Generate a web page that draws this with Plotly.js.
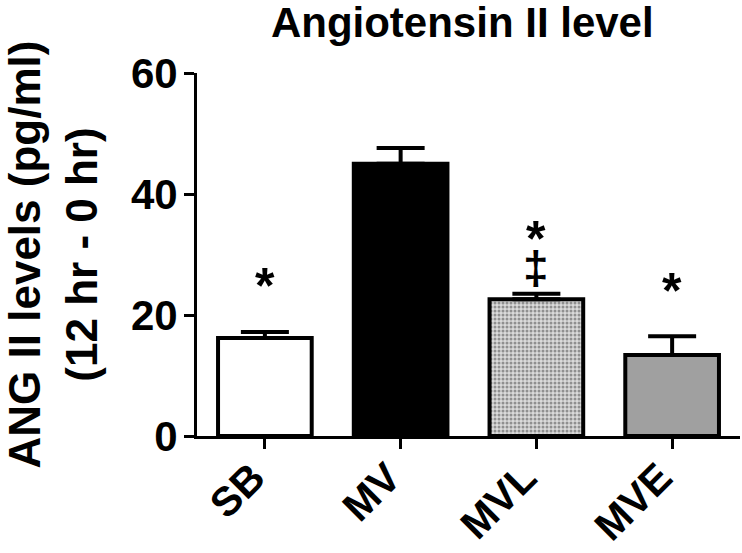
<!DOCTYPE html>
<html>
<head>
<meta charset="utf-8">
<script src="https://cdn.plot.ly/plotly-3.0.1.min.js"></script>
<style>html,body{margin:0;padding:0;background:#fff;}#chart{width:742px;height:553px;}</style>
</head>
<body>
<div id="chart"></div>
<script>
// ---- data ----
const categories = ['SB', 'MV', 'MVL', 'MVE'];
const meanValues = [16.2, 45.0, 22.6, 13.4];
const semValues = [1.0, 2.6, 0.9, 3.1];
const barFills = ['#ffffff', '#000000', '#dadada', '#a0a0a0'];
const barPatterns = ['', '', '.', ''];
const sigText = ['*', '*', '‡', '*'];
const sigCategory = ['SB', 'MVL', 'MVL', 'MVE'];
const sigY = [24.8, 32.6, 27.7, 24.0];
const yTicks = [0, 20, 40, 60];

const FONT = 'Liberation Sans, Arial, Helvetica, sans-serif';

const trace = {
  type: 'bar',
  x: categories,
  y: meanValues,
  marker: {
    color: barFills,
    line: {color: '#000', width: 4},
    pattern: {
      shape: barPatterns,
      fgcolor: '#8a8a8a',
      size: 4,
      solidity: 0.45,
      fillmode: 'overlay'
    }
  },
  error_y: {
    type: 'data',
    symmetric: false,
    array: semValues,
    arrayminus: semValues.map(() => 0),
    color: '#000',
    thickness: 4,
    width: 24
  },
  hoverinfo: 'x+y'
};

const annotations = sigText.map((t, i) => ({
  x: sigCategory[i], y: sigY[i], xref: 'x', yref: 'y',
  text: t, showarrow: false,
  xanchor: 'center', yanchor: 'middle',
  font: {family: FONT, size: t === '‡' ? 46 : 50, color: '#000', weight: 'bold'}
}));

const layout = {
  width: 742, height: 553,
  margin: {l: 197, r: 2, t: 73, b: 117, pad: 0},
  paper_bgcolor: '#fff', plot_bgcolor: '#fff',
  showlegend: false,
  bargap: 0.31,
  title: {
    text: '<b>Angiotensin II level</b>',
    font: {family: FONT, size: 42, color: '#000'},
    x: 0.623, xref: 'container', xanchor: 'center',
    y: 0.96, yref: 'container', yanchor: 'middle'
  },
  xaxis: {
    type: 'category',
    range: [-0.5, 3.5],
    showline: true, linecolor: '#000', linewidth: 3,
    ticks: 'outside', ticklen: 10, tickwidth: 3, tickcolor: '#000',
    tickangle: -45,
    ticklabelshift: -12,
    ticklabelstandoff: -12,
    tickfont: {family: FONT, size: 41, color: '#000', weight: 'bold'},
    showgrid: false, zeroline: false, fixedrange: true
  },
  yaxis: {
    range: [0, 60],
    tickvals: yTicks,
    ticktext: yTicks.map(String),
    showline: true, linecolor: '#000', linewidth: 3,
    ticks: 'outside', ticklen: 10, tickwidth: 3, tickcolor: '#000',
    ticklabelstandoff: -2,
    tickfont: {family: FONT, size: 42, color: '#000', weight: 'bold'},
    showgrid: false, zeroline: false, fixedrange: true,
    title: {
      text: '<b>ANG II levels (pg/ml)<br>(12 hr - 0 hr)</b>',
      font: {family: FONT, size: 44, color: '#000'},
      standoff: 48
    }
  },
  annotations: annotations
};

Plotly.newPlot('chart', [trace], layout, {displayModeBar: false, staticPlot: true});
</script>
</body>
</html>
